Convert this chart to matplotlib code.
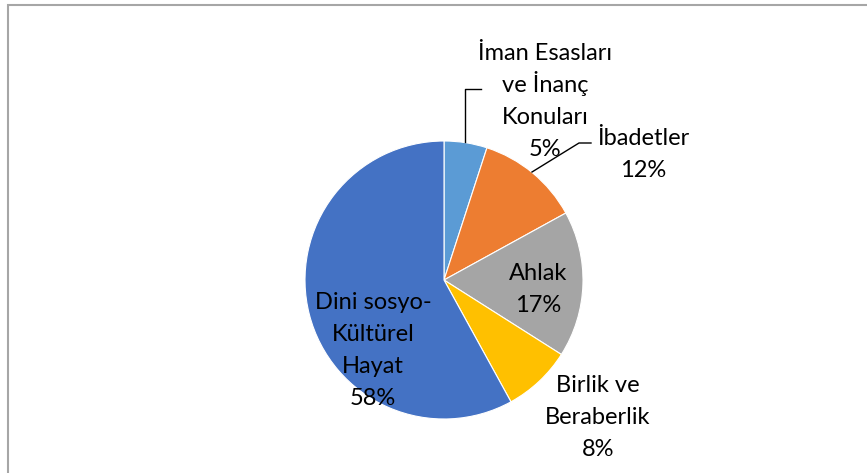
import matplotlib
matplotlib.use("Agg")
import matplotlib.pyplot as plt
from matplotlib.patches import Rectangle

categories = ["İman Esasları\nve İnanç\nKonuları", "İbadetler", "Ahlak",
              "Birlik ve\nBeraberlik", "Dini sosyo-\nKültürel\nHayat"]
values = [5, 12, 17, 8, 58]
colors = ["#5B9BD5", "#ED7D31", "#A5A5A5", "#FFC000", "#4472C4"]

W, H = 867, 473
fig = plt.figure(figsize=(W / 100, H / 100), dpi=100)
ax = fig.add_axes([0, 0, 1, 1])

# border (chart area frame, cropped at right/bottom)
ax.add_patch(Rectangle((8, -20), W + 20, H - 5 + 20, fill=False,
                       edgecolor="#A6A6A6", linewidth=1.5))

cx, cy, r = 444, H - 280, 139
ax.pie(values, colors=colors, startangle=90, counterclock=False,
       center=(cx, cy), radius=r, frame=True,
       wedgeprops=dict(edgecolor="white", linewidth=0.8))
ax.set_xlim(0, W)
ax.set_ylim(0, H)
ax.axis("off")

# label positions (pixel layout, image coords: centre of the text block)
label_pos = [(545, 100), (643, 153), (538, 288), (598, 416), (373, 349)]
step = 32
font = dict(family=["Lato", "DejaVu Sans"], fontsize=17, color="#000000")
for cat, v, (lx, ly) in zip(categories, values, label_pos):
    lines = cat.split("\n") + [f"{v}%"]
    n = len(lines)
    for i, line in enumerate(lines):
        yc = ly + (i - (n - 1) / 2) * step
        ax.text(lx, H - (yc + 8), line, ha="center", va="baseline", **font)

# leader lines
ax.plot([465, 465, 481], [H - 142, H - 89, H - 89], color="black", lw=1)
ax.plot([532, 579, 591], [H - 172, H - 143, H - 143], color="black", lw=1)

fig.savefig("out.png", dpi=100, facecolor="white")
